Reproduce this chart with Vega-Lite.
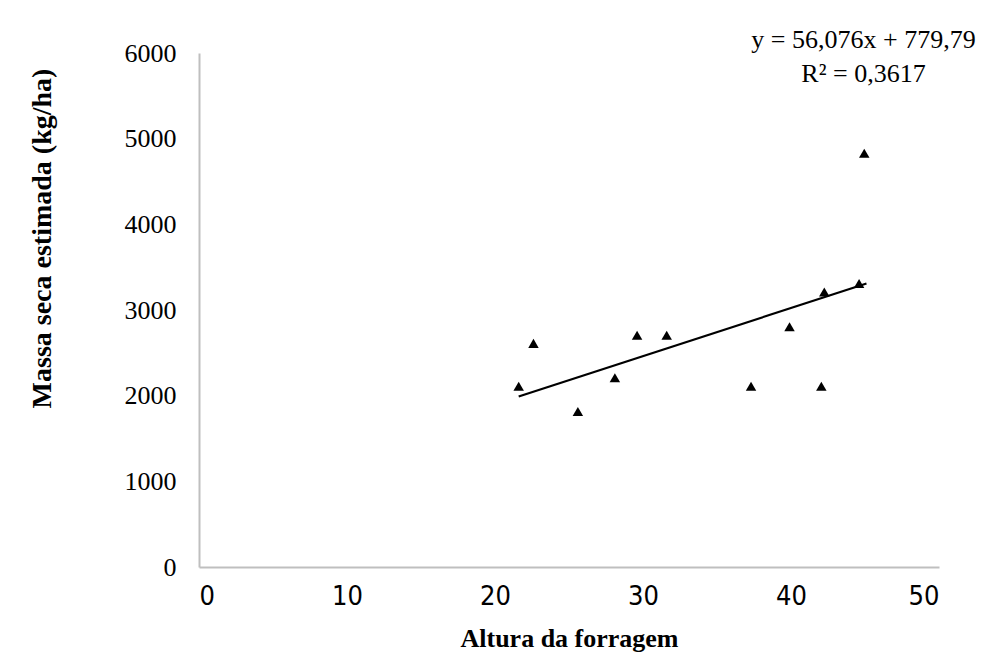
{
  "$schema": "https://vega.github.io/schema/vega-lite/v6.json",
  "width": 740,
  "height": 514,
  "autosize": {"type": "none"},
  "padding": {"left": 199, "top": 53, "right": 48, "bottom": 99},
  "background": "white",
  "config": {"view": {"stroke": null}},
  "datasets": {
    "pts": [
      {"altura": 21.6, "massa": 2110},
      {"altura": 22.6, "massa": 2610},
      {"altura": 25.6, "massa": 1815},
      {"altura": 28.1, "massa": 2210},
      {"altura": 29.6, "massa": 2705},
      {"altura": 31.6, "massa": 2705},
      {"altura": 37.3, "massa": 2110},
      {"altura": 39.9, "massa": 2805},
      {"altura": 42.05, "massa": 2110},
      {"altura": 42.25, "massa": 3210},
      {"altura": 44.6, "massa": 3310},
      {"altura": 44.95, "massa": 4830}
    ],
    "fit": [
      {"altura": 21.6, "massa": 1991},
      {"altura": 45.1, "massa": 3309}
    ],
    "eq": [
      {"altura": 44.9, "massa": 6150, "label": "y = 56,076x + 779,79"},
      {"altura": 44.9, "massa": 5760, "label": "R² = 0,3617"}
    ]
  },
  "layer": [
    {
      "data": {"name": "fit"},
      "mark": {"type": "line", "color": "black", "strokeWidth": 2.2},
      "encoding": {
        "x": {
          "field": "altura", "type": "quantitative",
          "scale": {"domain": [0, 50], "nice": false},
          "axis": {
            "title": "Altura da forragem",
            "values": [0, 10, 20, 30, 40, 50],
            "format": "d",
            "grid": false, "ticks": false,
            "domainColor": "#bfbfbf", "domainWidth": 2,
            "labelFont": "DejaVu Sans Condensed, Liberation Sans", "labelFontSize": 27, "labelColor": "black",
            "labelPadding": 16,
            "titleFont": "Liberation Serif", "titleFontSize": 26, "titleFontWeight": "bold", "titleColor": "black",
            "titleBaseline": "middle", "titleY": 71
          }
        },
        "y": {
          "field": "massa", "type": "quantitative",
          "scale": {"domain": [0, 6000], "nice": false},
          "axis": {
            "title": "Massa seca estimada (kg/ha)",
            "values": [0, 1000, 2000, 3000, 4000, 5000, 6000],
            "format": "d",
            "grid": false, "ticks": false,
            "domainColor": "#bfbfbf", "domainWidth": 2,
            "labelFont": "Liberation Serif", "labelFontSize": 26, "labelColor": "black",
            "labelPadding": 23,
            "titleFont": "Liberation Serif", "titleFontSize": 28, "titleFontWeight": "bold", "titleColor": "black",
            "titleBaseline": "middle", "titleAngle": -90, "titleX": -157, "titleY": 185
          }
        }
      }
    },
    {
      "data": {"name": "pts"},
      "mark": {"type": "point", "shape": "triangle-up", "filled": true, "color": "black", "opacity": 1, "size": 110},
      "encoding": {
        "x": {"field": "altura", "type": "quantitative"},
        "y": {"field": "massa", "type": "quantitative"}
      }
    },
    {
      "data": {"name": "eq"},
      "mark": {"type": "text", "font": "Liberation Serif", "fontSize": 26, "color": "black", "align": "center", "baseline": "middle"},
      "encoding": {
        "x": {"field": "altura", "type": "quantitative"},
        "y": {"field": "massa", "type": "quantitative"},
        "text": {"field": "label"}
      }
    }
  ]
}
